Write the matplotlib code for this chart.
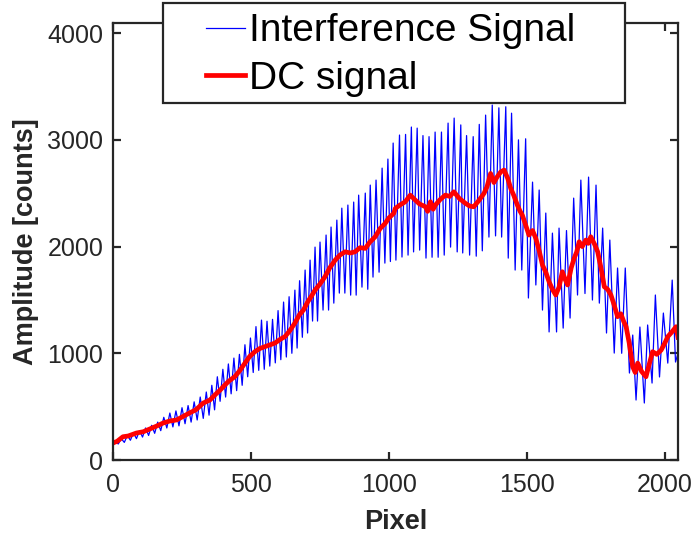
import matplotlib
matplotlib.use("Agg")
import matplotlib.pyplot as plt
from matplotlib.patches import Rectangle
import numpy as np

plt.rcParams['font.family'] = ['Liberation Sans', 'DejaVu Sans']

# Interference signal: local maxima / minima (pixel, counts)
peak_px = [8, 30, 52, 74, 96, 118, 140, 162, 184, 206, 228, 250, 272, 294, 316,
           338, 358, 378, 398, 418, 438, 458, 478, 498, 518, 538, 558, 578, 598, 618, 638, 659,
           676, 696, 714, 732, 750, 772, 790, 811, 829, 851, 872, 890, 914, 932, 953, 975, 996, 1015,
           1038, 1060, 1081, 1102, 1123, 1145, 1167, 1190, 1214, 1236, 1260, 1281, 1305, 1327, 1350,
           1374, 1398, 1423, 1444, 1469, 1495, 1520, 1544, 1568, 1592, 1616, 1643, 1669,
           1695, 1723, 1750, 1774, 1800, 1828, 1856, 1883, 1909, 1937, 1965, 1994, 2026]
peak_val = [175, 200, 230, 255, 275, 300, 325, 355, 400, 440, 460, 490, 510, 545, 590,
            637, 700, 780, 850, 900, 955, 990, 1080, 1143, 1250, 1311, 1300, 1318, 1400, 1480, 1530, 1592,
            1680, 1780, 1873, 1995, 2042, 2108, 2183, 2248, 2360, 2389, 2417, 2482, 2501, 2576, 2623, 2735, 2820, 2970,
            3045, 3051, 3120, 3110, 3040, 3030, 3073, 3073, 3157, 3204, 3140, 3040, 3030, 3145, 3232,
            3326, 3300, 3310, 3250, 3000, 3010, 2604, 2530, 2314, 2126, 2173, 2150, 2454,
            2623, 2651, 2576, 2173, 2061, 1799, 1799, 1171, 1246, 1265, 1546, 1377, 1686]
trough_px = [0, 19, 41, 63, 85, 107, 129, 151, 173, 195, 217, 239, 261, 283, 305, 327,
             348, 368, 388, 408, 428, 448, 468, 488, 508, 528, 548, 568, 588, 608, 628, 648,
             667, 686, 705, 723, 741, 761, 781, 800, 820, 840, 861, 881, 902, 923, 942, 964, 985, 1005,
             1025, 1047, 1069, 1089, 1111, 1134, 1156, 1178, 1200, 1223, 1247, 1267, 1292, 1316, 1338,
             1362, 1386, 1408, 1432, 1457, 1481, 1505, 1532, 1556, 1580, 1607, 1631, 1656,
             1683, 1710, 1737, 1762, 1788, 1816, 1843, 1871, 1895, 1925, 1953, 1980, 2010, 2038, 2047]
trough_val = [130, 150, 165, 185, 200, 215, 230, 250, 275, 300, 310, 320, 340, 355, 375, 390,
              420, 470, 550, 590, 620, 650, 700, 780, 820, 840, 850, 880, 910, 940, 965, 1000,
              1049, 1150, 1190, 1302, 1302, 1405, 1405, 1470, 1564, 1564, 1545, 1545, 1620, 1600, 1714, 1760, 1845, 1860,
              1873, 1902, 1920, 1950, 1967, 1892, 1900, 1900, 1920, 1995, 1950, 1940, 1920, 1910, 1960,
              2089, 2100, 2089, 1892, 1780, 1780, 1518, 1640, 1405, 1200, 1200, 1236, 1330,
              1546, 1560, 1499, 1470, 1190, 1002, 1000, 815, 562, 534, 721, 778, 908, 918, 1000]

# DC signal
dc_px = [0, 15, 36, 55, 85, 110, 133, 160, 182, 205, 230, 255, 279, 300, 327, 351, 369, 390, 405, 420,
         441, 460, 478, 495, 514, 532, 550, 570, 587, 605, 623, 640, 659, 675, 690, 705, 720, 732, 750, 768,
         785, 805, 822, 841, 860, 877, 895, 914, 930, 950, 968, 986, 1000, 1017, 1023, 1040, 1059, 1077, 1095, 1110,
         1132, 1140, 1150, 1160, 1168, 1185, 1204, 1220, 1235, 1255, 1277, 1292, 1307, 1325, 1344, 1355, 1368, 1380,
         1392, 1405, 1417, 1430, 1441, 1452, 1465, 1475, 1483, 1495, 1507, 1520, 1532, 1545, 1556, 1568, 1580,
         1592, 1604, 1616, 1628, 1637, 1647, 1660, 1671, 1680, 1689, 1700, 1713, 1722, 1731, 1745, 1756, 1768,
         1780, 1792, 1804, 1816, 1828, 1840, 1850, 1859, 1870, 1883, 1892, 1901, 1915, 1931, 1943, 1955, 1970,
         1986, 2000, 2010, 2025, 2040, 2047]
dc_val = [160, 175, 218, 225, 253, 265, 290, 320, 347, 365, 375, 410, 443, 470, 534, 562, 609, 660, 702, 740,
          780, 840, 908, 970, 1015, 1045, 1062, 1080, 1096, 1130, 1156, 1210, 1283, 1360, 1405, 1480, 1540, 1592, 1650, 1717,
          1800, 1873, 1920, 1951, 1940, 1951, 1990, 1983, 2040, 2092, 2170, 2217, 2270, 2311, 2358, 2390, 2420, 2482, 2436, 2400,
          2373, 2330, 2420, 2350, 2389, 2440, 2482, 2470, 2513, 2450, 2405, 2380, 2373, 2430, 2498, 2560, 2685, 2600,
          2654, 2700, 2717, 2640, 2545, 2480, 2389, 2330, 2295, 2200, 2108, 2150, 2077, 1950, 1827, 1760, 1670,
          1600, 1546, 1620, 1764, 1700, 1640, 1800, 1892, 1950, 2045, 2000, 2061, 2030, 2092, 2020, 1951, 1800,
          1623, 1600, 1546, 1450, 1343, 1370, 1300, 1249, 1100, 874, 820, 908, 830, 780, 900, 1015, 990,
          1030, 1100, 1156, 1200, 1249, 1150]

# merge maxima and minima into one trace
sig_px = np.array(peak_px + trough_px)
sig_val = np.array(peak_val + trough_val)
order = np.argsort(sig_px)
sig_px, sig_val = sig_px[order], sig_val[order]

W, H = 693, 541
fig = plt.figure(figsize=(W / 100, H / 100), dpi=100)
ax = fig.add_axes([113 / W, 1 - 460 / H, 565 / W, 437 / H])

ax.plot(sig_px, sig_val, color=(0, 0, 1), linewidth=0.9, label='Interference Signal')
ax.plot(dc_px, dc_val, color=(1, 0, 0), linewidth=3.4, label='DC signal')

ax.set_xlim(0, 2047)
ax.set_ylim(0, 4095)
ax.set_xticks([0, 500, 1000, 1500, 2000])
ax.set_yticks([0, 1000, 2000, 3000, 4000])

dark = '#262626'
for s in ax.spines.values():
    s.set_color(dark)
    s.set_linewidth(1.6)
ax.tick_params(direction='in', length=6, width=1.6, colors=dark, labelsize=18,
               top=True, right=True)
ax.tick_params(axis='x', pad=9)
ax.tick_params(axis='y', pad=7)
ax.set_xlabel('Pixel', fontsize=19.5, fontweight='bold', color=dark, labelpad=9)
ax.set_ylabel('Amplitude [counts]', fontsize=19.5, fontweight='bold', color=dark, labelpad=6)

# legend: MATLAB style box with wide side padding
leg = fig.legend(loc='center left', bbox_to_anchor=(206 / W, 1 - 55 / H), borderaxespad=0,
                 fontsize=28, handlelength=1.0, handletextpad=0.1, labelspacing=0.3,
                 borderpad=0, frameon=False)
fig.patches.append(Rectangle((163 / W, 1 - 103 / H), 462 / W, 100 / H, transform=fig.transFigure,
                             facecolor='white', edgecolor=dark, linewidth=1.6, zorder=3))
leg.set_zorder(4)

fig.savefig('out.png', dpi=100)
